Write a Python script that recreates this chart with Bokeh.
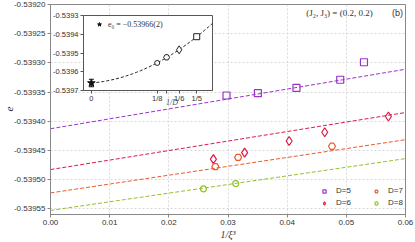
import numpy as np
from bokeh.plotting import figure
from bokeh.models import (FixedTicker, PrintfTickFormatter, Legend, LegendItem, Label, Div,
                          ColumnDataSource, Whisker, Range1d, TeeHead)
from bokeh.layouts import column
from bokeh.embed import file_html
from bokeh.resources import INLINE
from bokeh.core.properties import value

# ---------------- data ----------------
D_labels = ["D=5", "D=6", "D=7", "D=8"]
x_D5 = [0.02975, 0.03505, 0.04157, 0.04897, 0.05298]
e_D5 = [-0.539356, -0.539352, -0.539343, -0.539329, -0.539299]
x_D6 = [0.02753, 0.03281, 0.04033, 0.04635, 0.05711]
e_D6 = [-0.539465, -0.539454, -0.539434, -0.539419, -0.539392]
x_D7 = [0.02786, 0.03171, 0.04758]
e_D7 = [-0.539478, -0.539462, -0.539443]
x_D8 = [0.02586, 0.03131]
e_D8 = [-0.539516, -0.539507]
fit_intercept = [-0.539413, -0.539483, -0.539523, -0.539553]
fit_slope = [0.00170, 0.00163, 0.00152, 0.00148]
inv_D = [1 / 5, 1 / 6, 1 / 7, 1 / 8]
e0 = [-0.53966]
e0_err = [0.00002]
x_ticks = [0.00, 0.01, 0.02, 0.03, 0.04, 0.05, 0.06]
y_ticks = [-0.53955, -0.53950, -0.53945, -0.53940, -0.53935, -0.53930, -0.53925, -0.53920]
inset_x_ticks = [0.0, 1 / 8, 1 / 7, 1 / 6, 1 / 5]
inset_x_labels = ["0", "1/8", "", "1/6", "1/5"]
inset_y_ticks = [-0.5397, -0.5396, -0.5395, -0.5394, -0.5393]

colors = ["#9a32cd", "#dc1a4a", "#ec5a2a", "#92c22a"]
markers = ["square", "diamond", "hex", "circle"]
msizes = [7, 9, 7, 6]
xs_all = [x_D5, x_D6, x_D7, x_D8]
es_all = [e_D5, e_D6, e_D7, e_D8]

SANS = "Liberation Sans"
SERIF = "Liberation Serif"

# ---------------- main figure ----------------
p = figure(width=415, height=242, output_backend="svg", toolbar_location=None,
           x_range=Range1d(x_ticks[0], x_ticks[-1]), y_range=Range1d(-0.53956, y_ticks[-1]),
           min_border_left=46, min_border_right=10, min_border_top=4, min_border_bottom=25)
p.background_fill_color = "white"
p.border_fill_color = "white"
p.outline_line_color = "#888888"

p.xaxis.ticker = FixedTicker(ticks=x_ticks)
p.yaxis.ticker = FixedTicker(ticks=y_ticks)
p.xaxis.formatter = PrintfTickFormatter(format="%.2f")
p.yaxis.formatter = PrintfTickFormatter(format="%.5f")
for ax in (p.xaxis[0], p.yaxis[0]):
    ax.axis_line_color = "#888888"
    ax.major_tick_line_color = "#888888"
    ax.major_tick_out = 3
    ax.major_tick_in = 0
    ax.minor_tick_out = 0
    ax.minor_tick_in = 0
    ax.major_label_text_font = SANS
    ax.major_label_text_font_size = "8px"
    ax.major_label_text_color = "#333333"
    ax.major_label_standoff = 2
p.xaxis.axis_label = "1/ξ³"
p.xaxis.axis_label_text_font = SERIF
p.xaxis.axis_label_text_font_style = "italic"
p.xaxis.axis_label_text_font_size = "10px"
p.xaxis.axis_label_text_color = "#333333"
p.xaxis.axis_label_standoff = 1
p.grid.grid_line_color = "#d8d8d8"
p.grid.grid_line_dash = "2 2"

fx = np.array([x_ticks[0], x_ticks[-1]])
scat = []
for i in range(4):
    p.line(fx, fit_intercept[i] + fit_slope[i] * fx, line_color=colors[i],
           line_dash="4 2", line_width=1)
for i in range(4):
    r = p.scatter(xs_all[i], es_all[i], marker=markers[i], size=msizes[i],
                  line_color=colors[i], fill_alpha=0, line_width=1.2)
    scat.append(r)

leg1 = Legend(items=[LegendItem(label=D_labels[0], renderers=[scat[0]]),
                     LegendItem(label=D_labels[1], renderers=[scat[1]])],
              location=(269, 7))
leg2 = Legend(items=[LegendItem(label=D_labels[2], renderers=[scat[2]]),
                     LegendItem(label=D_labels[3], renderers=[scat[3]])],
              location=(321, 7))
for lg in (leg1, leg2):
    lg.background_fill_alpha = 0
    lg.border_line_alpha = 0
    lg.padding = 0
    lg.margin = 0
    lg.spacing = 3
    lg.glyph_width = 10
    lg.glyph_height = 8
    lg.label_height = 8
    lg.label_standoff = 7
    lg.label_text_font = SANS
    lg.label_text_font_size = "8px"
    lg.label_text_color = "#333333"
    lg.label_text_baseline = "middle"
    p.add_layout(lg)

p.add_layout(Label(x=289, y=202, x_units="screen", y_units="screen",
                   text="(J₂, J₃) = (0.2, 0.2)", text_font=SERIF, text_font_size="9px",
                   text_color="#333333", text_align="center", text_baseline="middle"))
p.add_layout(Label(x=347, y=202, x_units="screen", y_units="screen",
                   text="(b)", text_font=SANS, text_font_size="9px",
                   text_color="#333333", text_align="center", text_baseline="middle"))

# ---------------- inset ----------------
q = figure(frame_width=129, frame_height=75, output_backend="svg", toolbar_location=None,
           x_range=Range1d(-0.015, 0.23), y_range=Range1d(inset_y_ticks[0], inset_y_ticks[-1]),
           min_border_left=50, min_border_right=4, min_border_top=6, min_border_bottom=24)
q.background_fill_color = "white"
q.border_fill_color = "white"
q.border_fill_alpha = 0
q.outline_line_color = "#555555"
q.grid.visible = False
q.xaxis.ticker = FixedTicker(ticks=inset_x_ticks)
q.xaxis.major_label_overrides = {t: s for t, s in zip(inset_x_ticks, inset_x_labels)}
q.yaxis.ticker = FixedTicker(ticks=inset_y_ticks)
q.yaxis.formatter = PrintfTickFormatter(format="%.4f")
for ax in (q.xaxis[0], q.yaxis[0]):
    ax.axis_line_color = "#555555"
    ax.major_tick_line_color = "#555555"
    ax.major_tick_out = 3
    ax.major_tick_in = 0
    ax.minor_tick_out = 0
    ax.minor_tick_in = 0
    ax.major_label_text_font = SANS
    ax.major_label_text_font_size = "7.5px"
    ax.major_label_text_color = "#333333"
    ax.major_label_standoff = 2
q.xaxis.major_label_standoff = 0

fit_x = np.array([0.0] + inv_D)
fit_y = np.array(e0 + fit_intercept)
coef = np.polyfit(fit_x, fit_y, 2)
cx = np.linspace(0.0, q.x_range.end, 60)
q.line(cx, np.polyval(coef, cx), line_color="#222222", line_dash="3 2", line_width=1)
for i in range(4):
    q.scatter([inv_D[i]], [fit_intercept[i]], marker=markers[i], size=msizes[i] - 1,
              line_color="#222222", fill_color="white", line_width=1)
src0 = ColumnDataSource(dict(x=[0.0], y=e0, lo=[e0[0] - e0_err[0]], hi=[e0[0] + e0_err[0]]))
q.add_layout(Whisker(source=src0, base="x", lower="lo", upper="hi", line_color="#111111",
                     upper_head=TeeHead(size=5, line_color="#111111"),
                     lower_head=TeeHead(size=5, line_color="#111111")))
star = q.scatter("x", "y", source=src0, marker="star", size=8, color="#111111")
qleg = Legend(items=[LegendItem(label="e₀ = −0.53966(2)", renderers=[star])],
              location=(11, 61))
qleg.background_fill_alpha = 0
qleg.border_line_alpha = 0
qleg.padding = 0
qleg.margin = 0
qleg.glyph_width = 10
qleg.glyph_height = 10
qleg.label_height = 10
qleg.label_standoff = 4
qleg.label_text_font = SERIF
qleg.label_text_font_size = "8px"
qleg.label_text_color = "#333333"
qleg.label_text_baseline = "middle"
q.add_layout(qleg)
q.styles = {"position": "absolute", "left": "33px", "top": "9px"}

# axis titles placed outside the plot frames
ylab = Div(text='<span style="font-family: \'Liberation Serif\'; font-style: italic; '
                'font-size: 11px; color: #222222; line-height: 12px;">e</span>',
           width=12, height=12, margin=0,
           styles={"position": "absolute", "left": "1px", "top": "103px",
                   "transform": "rotate(-90deg)", "text-align": "center"})
ilab = Div(text='<span style="font-family: \'Liberation Serif\'; font-style: italic; '
                'font-size: 8px; color: #555555; line-height: 10px;">1/D</span>',
           width=30, height=10, margin=0,
           styles={"position": "absolute", "left": "157px", "top": "93px",
                   "text-align": "center"})

root = column(p, q, ylab, ilab)
root.styles = {"position": "absolute", "left": "0px", "top": "0px"}

open("out.html", "w").write(file_html(root, INLINE))
